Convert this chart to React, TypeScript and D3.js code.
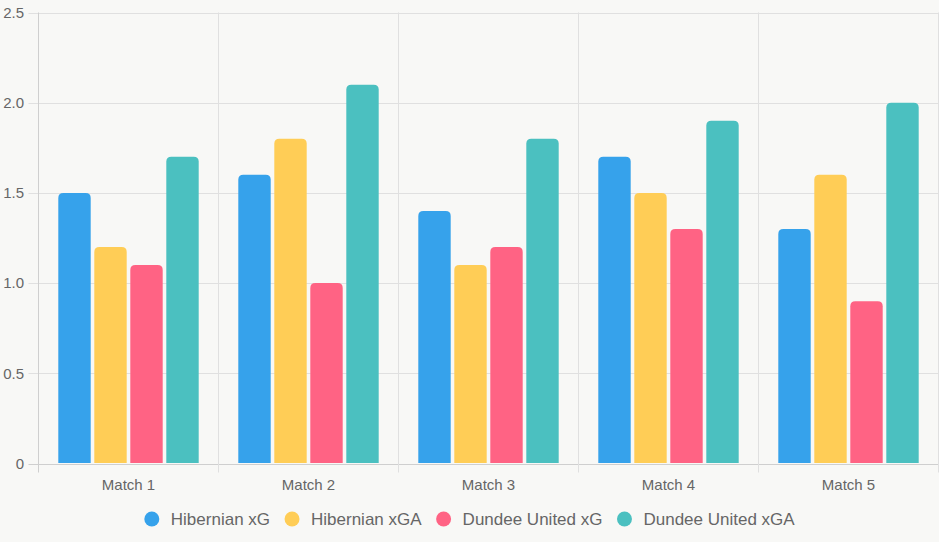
import { useEffect, useRef } from 'react';
import * as d3 from 'd3';

// chart data
const matches = ['Match 1', 'Match 2', 'Match 3', 'Match 4', 'Match 5'];
const hibernianXG = [1.5, 1.6, 1.4, 1.7, 1.3];
const hibernianXGA = [1.2, 1.8, 1.1, 1.5, 1.6];
const dundeeXG = [1.1, 1.0, 1.2, 1.3, 0.9];
const dundeeXGA = [1.7, 2.1, 1.8, 1.9, 2.0];
const seriesNames = ['Hibernian xG', 'Hibernian xGA', 'Dundee United xG', 'Dundee United xGA'];
const seriesColors = ['#36A2EB', '#FFCD56', '#FF6384', '#4BC0C0'];
const yTicks = [0, 0.5, 1.0, 1.5, 2.0, 2.5];

const W = 939;
const H = 542;
const FONT = '"Liberation Sans", Arial, sans-serif';

export default function App() {
  const svgRef = useRef<SVGSVGElement>(null);

  useEffect(() => {
    const svg = d3.select(svgRef.current);
    svg.selectAll('*').remove();

    const series = [hibernianXG, hibernianXGA, dundeeXG, dundeeXGA];
    const left = 38.5, right = 938.5, top = 12.5, bottom = 463.5;

    svg.append('rect').attr('width', W).attr('height', H).attr('fill', '#f8f8f6');

    const x = d3.scaleBand().domain(matches).range([left, right]).padding(0);
    const y = d3.scaleLinear().domain([0, 2.5]).range([bottom, top]);
    const inner = d3.scaleBand()
      .domain(seriesNames)
      .range([x.bandwidth() * 0.1, x.bandwidth() * 0.9])
      .paddingInner(0.1)
      .paddingOuter(0.05);

    const grid = svg.append('g');
    // horizontal grid lines with tick marks
    yTicks.forEach(t => {
      grid.append('line')
        .attr('x1', left - 10).attr('x2', right)
        .attr('y1', Math.round(y(t)) + 0.5).attr('y2', Math.round(y(t)) + 0.5)
        .attr('stroke', t === 0 ? '#cfcfcf' : '#e0e0e0').attr('stroke-width', 1);
      grid.append('text')
        .attr('x', 24).attr('y', y(t))
        .attr('dy', '0.35em')
        .attr('text-anchor', 'end')
        .style('font-family', FONT).style('font-size', '15px').style('fill', '#666')
        .text(t === 0 ? '0' : t.toFixed(1));
    });
    // vertical grid lines at category boundaries
    const bounds = matches.map(m => x(m)!).concat([right]);
    bounds.forEach((bx, i) => {
      grid.append('line')
        .attr('x1', bx).attr('x2', bx)
        .attr('y1', top).attr('y2', bottom + 9)
        .attr('stroke', i === 0 ? '#cfcfcf' : '#e0e0e0').attr('stroke-width', 1);
    });

    // bars
    const bars = svg.append('g');
    matches.forEach((m, i) => {
      series.forEach((s, j) => {
        const bx = x(m)! + inner(seriesNames[j])!;
        const bw = inner.bandwidth();
        const by = y(s[i]);
        const bh = bottom - 0.5 - by;
        const r = 5;
        const path = `M${bx},${by + bh} L${bx},${by + r} Q${bx},${by} ${bx + r},${by} L${bx + bw - r},${by} Q${bx + bw},${by} ${bx + bw},${by + r} L${bx + bw},${by + bh} Z`;
        bars.append('path')
          .attr('d', path)
          .attr('fill', seriesColors[j]);
      });
    });

    // x labels
    matches.forEach(m => {
      svg.append('text')
        .attr('x', x(m)! + x.bandwidth() / 2)
        .attr('y', 485)
        .attr('dy', '0.35em')
        .attr('text-anchor', 'middle')
        .style('font-family', FONT).style('font-size', '15px').style('fill', '#666')
        .text(m);
    });

    // legend
    const legend = svg.append('g');
    const items: { g: any; w: number }[] = [];
    seriesNames.forEach((name, i) => {
      const g = legend.append('g');
      g.append('circle').attr('cx', 7.5).attr('cy', 0).attr('r', 7.5).attr('fill', seriesColors[i]);
      const t = g.append('text')
        .attr('x', 26.5).attr('dy', '0.35em')
        .style('font-family', FONT).style('font-size', '17px').style('fill', '#666')
        .text(name);
      const tw = (t.node() as SVGTextElement).getComputedTextLength();
      items.push({ g, w: 26.5 + tw });
    });
    const gap = 14.5;
    const total = d3.sum(items, d => d.w) + gap * (items.length - 1);
    let cx = W / 2 - total / 2;
    items.forEach(it => {
      it.g.attr('transform', `translate(${cx},519)`);
      cx += it.w + gap;
    });
  }, []);

  return (
    <div style={{ position: 'fixed', left: 0, top: 0, width: W, height: H, overflow: 'hidden' }}>
      <svg ref={svgRef} width={W} height={H} style={{ display: 'block' }}></svg>
    </div>
  );
}
